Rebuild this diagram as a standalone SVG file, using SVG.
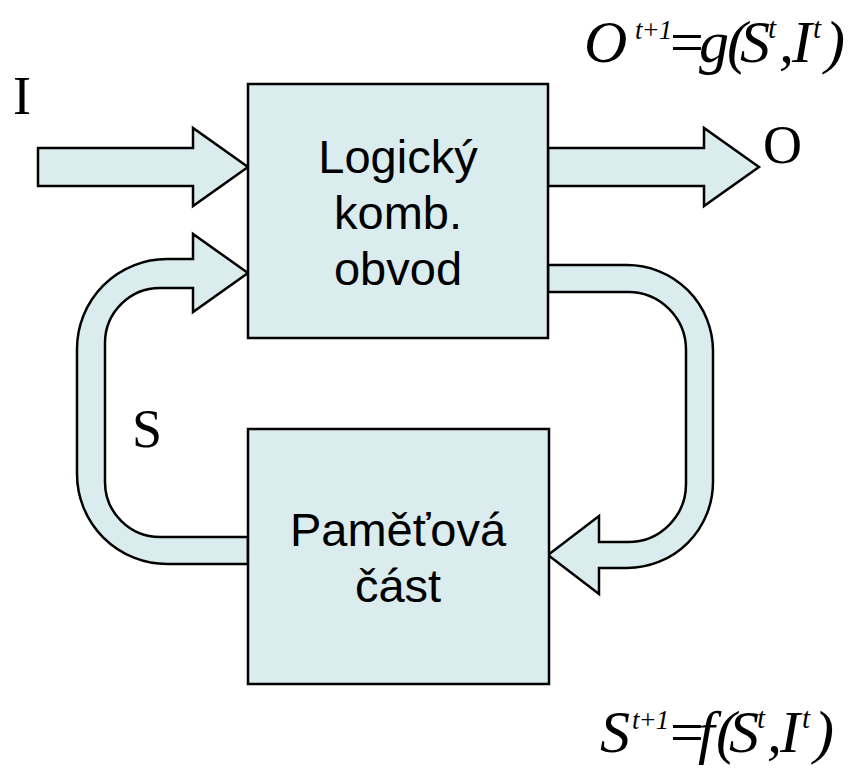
<svg xmlns="http://www.w3.org/2000/svg" width="856" height="770" viewBox="0 0 856 770">
<style>
.shape{fill:#DAECEE;stroke:#000;stroke-width:2.5;stroke-linejoin:miter}
.box{fill:#DAECEE;stroke:#000;stroke-width:2.5}
.bt{font-family:"Liberation Sans",Arial,sans-serif;font-size:47px;fill:#000;text-anchor:middle}
.lbl{font-family:"Liberation Serif","Times New Roman",serif;font-size:54px;fill:#000}
.eq{font-family:"Liberation Serif","Times New Roman",serif;font-style:italic;font-size:60px;fill:#000}
.sup{font-size:29px}
.sup1{font-size:27px;letter-spacing:-1px}
.up{font-style:normal}
</style>
<rect width="856" height="770" fill="#fff"/>
<g id="connectors">
<path id="arrow-I" class="shape" d="M38,148 L193,148 L193,128 L248,167 L193,206 L193,186 L38,186 Z"/>
<path id="arrow-O" class="shape" d="M548,148 L704,148 L704,128 L759,167 L704,206 L704,186 L548,186 Z"/>
<path id="arrow-S" class="shape" d="M248,564 L167,564 A90,90 0 0 1 77,474 L77,349 A90,90 0 0 1 167,259 L193,259 L193,234 L248,273 L193,312 L193,288 L160,288 A55,55 0 0 0 105,343 L105,482 A55,55 0 0 0 160,537 L248,537 Z"/>
<path id="arrow-next" class="shape" d="M548,265 L627,265 A86,86 0 0 1 713,351 L713,482 A86,86 0 0 1 627,568 L599,568 L599,594 L548,555 L599,516 L599,542 L628,542 A58,58 0 0 0 686,484 L686,350 A58,58 0 0 0 628,292 L548,292 Z"/>
</g>
<g id="logic">
<rect class="box" x="248" y="84" width="300" height="254"/>
<text class="bt" x="398" y="173">Logický</text>
<text class="bt" x="398" y="229">komb.</text>
<text class="bt" x="398" y="285">obvod</text>
</g>
<g id="memory">
<rect class="box" x="248" y="429" width="301" height="255"/>
<text class="bt" x="398" y="546">Paměťová</text>
<text class="bt" x="398" y="602">část</text>
</g>
<g id="labels">
<text class="lbl" x="13" y="114">I</text>
<text class="lbl" x="763" y="163">O</text>
<text class="lbl" x="132" y="447">S</text>
</g>
<g id="formula-top">
<text class="eq" y="62"><tspan x="584">O</tspan><tspan class="sup1" x="635" y="39">t+1</tspan><tspan class="up" x="670" y="62">=</tspan><tspan x="699">g</tspan><tspan x="727">(</tspan><tspan x="740">S</tspan><tspan class="sup" x="768" y="38">t</tspan><tspan x="779" y="62">,</tspan><tspan x="792">I</tspan><tspan class="sup" x="813" y="38">t</tspan><tspan x="825" y="62">)</tspan></text>
</g>
<g id="formula-bottom">
<text class="eq" y="752"><tspan x="600">S</tspan><tspan class="sup1" x="632" y="729">t+1</tspan><tspan class="up" x="670" y="752">=</tspan><tspan x="698">f</tspan><tspan x="716">(</tspan><tspan x="729">S</tspan><tspan class="sup" x="757" y="728">t</tspan><tspan x="767" y="752">,</tspan><tspan x="780">I</tspan><tspan class="sup" x="802" y="728">t</tspan><tspan x="814" y="752">)</tspan></text>
</g>
</svg>
